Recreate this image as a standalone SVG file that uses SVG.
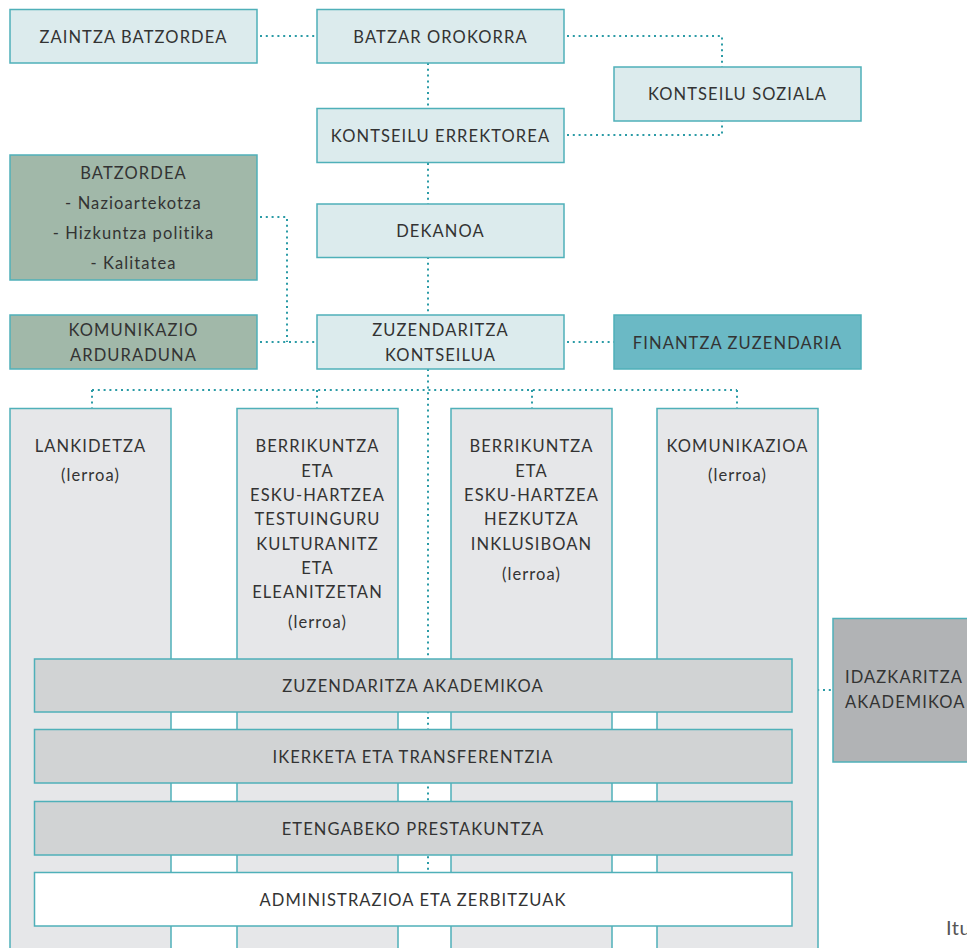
<svg xmlns="http://www.w3.org/2000/svg" width="967" height="948" viewBox="0 0 967 948">
<style>
.box{stroke:#4fb0b9;stroke-width:1.5}
.lt{fill:#dcebed}
.gr{fill:#a1b8a9}
.fin{fill:#6bb9c5}
.col{fill:#e6e7e9}
.bar{fill:#d1d3d4}
.wh{fill:#ffffff}
.idz{fill:#b1b3b5}
text{font-family:Lato,"Open Sans",sans-serif;font-weight:400;font-size:16.5px;letter-spacing:1.1px;fill:#333333;text-anchor:middle}
.dot{fill:none;stroke:#2b9ba6;stroke-width:2;stroke-dasharray:2 3.8}
</style>
<g id="connectors">
<path class="dot" d="M260 36H317"/>
<path class="dot" d="M567 36H722V67"/>
<path class="dot" d="M567 135H722V121"/>
<path class="dot" d="M428 63V108"/>
<path class="dot" d="M428 163V204"/>
<path class="dot" d="M428 257V315"/>
<path class="dot" d="M260 217H287V342"/>
<path class="dot" d="M260 342H317"/>
<path class="dot" d="M567 342H614"/>
<path class="dot" d="M92 390H737"/>
<path class="dot" d="M92 390V408"/>
<path class="dot" d="M317 390V408"/>
<path class="dot" d="M532 390V408"/>
<path class="dot" d="M737 390V408"/>
<path class="dot" d="M428 369V872"/>
<path class="dot" d="M794 690H833"/>
</g>
<g id="col-lankidetza"><rect class="box col" x="10" y="408.5" width="161" height="560"/>
<text x="90.5" y="452">LANKIDETZA</text><text x="90.5" y="481">(lerroa)</text></g>
<g id="col-berrikuntza1"><rect class="box col" x="237" y="408.5" width="161" height="560"/>
<text x="317.5" y="452">BERRIKUNTZA</text><text x="317.5" y="476.5">ETA</text><text x="317.5" y="501">ESKU-HARTZEA</text><text x="317.5" y="525">TESTUINGURU</text><text x="317.5" y="549.5">KULTURANITZ</text><text x="317.5" y="574">ETA</text><text x="317.5" y="598">ELEANITZETAN</text><text x="317.5" y="628">(lerroa)</text></g>
<g id="col-berrikuntza2"><rect class="box col" x="451" y="408.5" width="161" height="560"/>
<text x="531.5" y="452">BERRIKUNTZA</text><text x="531.5" y="476.5">ETA</text><text x="531.5" y="501">ESKU-HARTZEA</text><text x="531.5" y="525">HEZKUTZA</text><text x="531.5" y="549.5">INKLUSIBOAN</text><text x="531.5" y="580">(lerroa)</text></g>
<g id="col-komunikazioa"><rect class="box col" x="657" y="408.5" width="161" height="560"/>
<text x="737.5" y="452">KOMUNIKAZIOA</text><text x="737.5" y="481">(lerroa)</text></g>
<g id="zaintza"><rect class="box lt" x="10" y="9.5" width="247" height="53.5"/><text x="133.5" y="43">ZAINTZA BATZORDEA</text></g>
<g id="batzar"><rect class="box lt" x="317" y="9.5" width="247" height="53.5"/><text x="440.5" y="43">BATZAR OROKORRA</text></g>
<g id="soziala"><rect class="box lt" x="614" y="67" width="247" height="54"/><text x="737.5" y="100">KONTSEILU SOZIALA</text></g>
<g id="errektorea"><rect class="box lt" x="317" y="108.5" width="247" height="54"/><text x="440.5" y="142">KONTSEILU ERREKTOREA</text></g>
<g id="batzordea"><rect class="box gr" x="10" y="155" width="247" height="125"/>
<text x="133.5" y="179">BATZORDEA</text><text x="133.5" y="209">- Nazioartekotza</text><text x="133.5" y="239">- Hizkuntza politika</text><text x="133.5" y="269">- Kalitatea</text></g>
<g id="dekanoa"><rect class="box lt" x="317" y="204" width="247" height="53.5"/><text x="440.5" y="237">DEKANOA</text></g>
<g id="komunikazio-arduraduna"><rect class="box gr" x="10" y="315" width="247" height="54"/><text x="133.5" y="336">KOMUNIKAZIO</text><text x="133.5" y="361">ARDURADUNA</text></g>
<g id="zuzendaritza-kontseilua"><rect class="box lt" x="317" y="315" width="247" height="54"/><text x="440.5" y="336">ZUZENDARITZA</text><text x="440.5" y="361">KONTSEILUA</text></g>
<g id="finantza"><rect class="box fin" x="614" y="315" width="247" height="54"/><text x="737.5" y="349">FINANTZA ZUZENDARIA</text></g>
<g id="zuz-akademikoa"><rect class="box bar" x="34.5" y="659" width="757.5" height="53"/><text x="413" y="692">ZUZENDARITZA AKADEMIKOA</text></g>
<g id="ikerketa"><rect class="box bar" x="34.5" y="729.5" width="757.5" height="53.5"/><text x="413" y="763">IKERKETA ETA TRANSFERENTZIA</text></g>
<g id="etengabeko"><rect class="box bar" x="34.5" y="801.5" width="757.5" height="53.5"/><text x="413" y="835">ETENGABEKO PRESTAKUNTZA</text></g>
<g id="administrazioa"><rect class="box wh" x="34.5" y="872.5" width="757.5" height="53.5"/><text x="413" y="906">ADMINISTRAZIOA ETA ZERBITZUAK</text></g>
<g id="idazkaritza"><rect class="box idz" x="833" y="618.5" width="150" height="143.5"/><text x="845" y="683" style="text-anchor:start">IDAZKARITZA</text><text x="845" y="708" style="text-anchor:start">AKADEMIKOA</text></g>
<text x="946" y="935" style="text-anchor:start;font-size:20px;fill:#555;letter-spacing:0.5px">Itu</text>
</svg>
